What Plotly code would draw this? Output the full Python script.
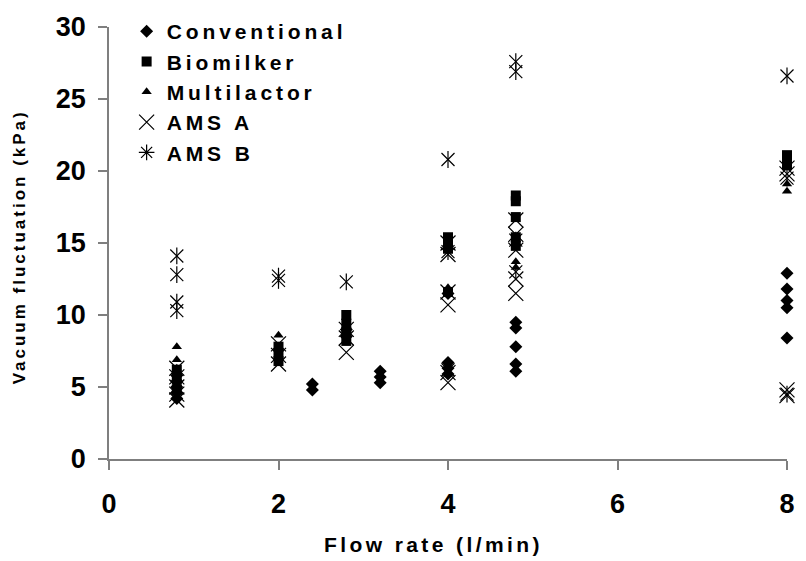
import plotly.graph_objects as go

# ---------------- data ----------------
conv_x = [0.8, 0.8, 0.8, 0.8, 0.8, 2.4, 2.4, 2.8, 2.8, 3.2, 3.2, 3.2, 4, 4, 4, 4, 4.8, 4.8, 4.8, 4.8, 4.8, 8, 8, 8, 8, 8]
conv_y = [4.2, 4.6, 5.0, 5.4, 5.8, 4.8, 5.2, 8.5, 9.0, 5.3, 5.7, 6.1, 5.9, 6.3, 6.7, 11.5, 6.1, 6.6, 7.8, 9.1, 9.5, 8.4, 10.5, 11.0, 11.8, 12.9]

bio_x = [0.8, 0.8, 0.8, 2, 2, 2, 2.8, 2.8, 2.8, 2.8, 4, 4, 4, 4, 4.8, 4.8, 4.8, 4.8, 4.8, 8, 8, 8]
bio_y = [4.8, 5.5, 6.2, 6.8, 7.3, 7.8, 8.2, 8.8, 9.4, 10.0, 11.6, 14.6, 15.0, 15.4, 14.8, 15.4, 16.8, 17.9, 18.3, 20.4, 20.8, 21.1]

multi_x = [0.8, 0.8, 0.8, 0.8, 2, 2, 2.8, 4, 4.8, 4.8, 8, 8]
multi_y = [5.6, 6.3, 6.9, 7.8, 7.0, 8.6, 9.0, 11.9, 13.3, 13.7, 18.6, 19.1]

amsa_x = [0.8, 0.8, 0.8, 0.8, 0.8, 2, 2, 2, 2.8, 2.8, 2.8, 4, 4, 4, 4, 4, 4, 4.8, 4.8, 4.8, 4.8, 4.8, 8, 8, 8, 8]
amsa_y = [4.1, 4.5, 5.0, 5.7, 6.3, 6.6, 7.2, 8.0, 7.4, 8.4, 9.0, 5.3, 6.0, 10.7, 11.6, 14.2, 15.0, 11.5, 12.5, 14.5, 15.6, 16.6, 4.4, 4.8, 19.8, 20.2]

amsb_x = [0.8, 0.8, 0.8, 0.8, 2, 2, 2.8, 4, 4, 4, 4.8, 4.8, 4.8, 4.8, 8, 8, 8]
amsb_y = [10.3, 10.9, 12.8, 14.1, 12.4, 12.7, 12.3, 20.8, 14.4, 6.2, 26.9, 27.6, 13.0, 15.2, 26.6, 4.5, 19.5]

series_names = ["Conventional", "Biomilker", "Multilactor", "AMS A", "AMS B"]

x_ticks = [0, 2, 4, 6, 8]
y_ticks = [0, 5, 10, 15, 20, 25, 30]

x_title = "Flow rate (l/min)"
y_title = "Vacuum fluctuation (kPa)"

# ---------------- styling ----------------
FONT = "Liberation Sans"


def lbl(t, sp):
    return f"<span style='letter-spacing:{sp}px'>{t}</span>"


LEG_SP = 3.9

fig = go.Figure()

fig.add_trace(go.Scatter(x=conv_x, y=conv_y, mode="markers", name=lbl(series_names[0], LEG_SP),
                         cliponaxis=False,
                         marker=dict(symbol="diamond", size=10, color="black")))
fig.add_trace(go.Scatter(x=bio_x, y=bio_y, mode="markers", name=lbl(series_names[1], LEG_SP),
                         cliponaxis=False,
                         marker=dict(symbol="square", size=10, color="black")))
fig.add_trace(go.Scatter(x=multi_x, y=multi_y, mode="markers", name=lbl(series_names[2], LEG_SP),
                         cliponaxis=False,
                         marker=dict(symbol="triangle-up", size=9, color="black")))
fig.add_trace(go.Scatter(x=amsa_x, y=amsa_y, mode="markers", name=lbl(series_names[3], LEG_SP),
                         cliponaxis=False,
                         marker=dict(symbol="x-thin-open", size=15, color="black",
                                     line=dict(width=1.2, color="black"))))
# AMS B: an X with a vertical bar (drawn as two overlaid marker layers)
fig.add_trace(go.Scatter(x=amsb_x, y=amsb_y, mode="markers", showlegend=False,
                         legendgroup="amsb", cliponaxis=False,
                         marker=dict(symbol="x-thin-open", size=13, color="black",
                                     line=dict(width=1.2, color="black"))))
fig.add_trace(go.Scatter(x=amsb_x, y=amsb_y, mode="markers", showlegend=False,
                         legendgroup="amsb", cliponaxis=False,
                         marker=dict(symbol="line-ns-open", size=12, color="black",
                                     line=dict(width=1.2, color="black"))))
# legend entry for AMS B
fig.add_trace(go.Scatter(x=[None], y=[None], mode="markers", name=lbl(series_names[4], LEG_SP),
                         legendgroup="amsb",
                         marker=dict(symbol="asterisk-open", size=13, color="black",
                                     line=dict(width=1.2, color="black"))))

axis_common = dict(
    showgrid=False, zeroline=False, showline=True,
    linecolor="#7f7f7f", linewidth=1.5,
    ticks="outside", ticklen=9, tickcolor="#7f7f7f", tickwidth=1.5,
    tickfont=dict(family=FONT, size=27, color="black", weight="bold"),
)

fig.update_layout(
    width=806, height=561, autosize=False,
    margin=dict(l=109, r=11, t=22, b=102),
    paper_bgcolor="white", plot_bgcolor="white",
    font=dict(family=FONT, color="black"),
    xaxis=dict(range=[0, 8], tickvals=x_ticks, ticklabelstandoff=11, **axis_common),
    yaxis=dict(range=[0, 30], tickvals=y_ticks, ticklabelstandoff=7, **axis_common),
    legend=dict(x=0.026, xanchor="left", y=1.037, yanchor="top",
                bgcolor="white", borderwidth=0, tracegroupgap=0,
                font=dict(family=FONT, size=21, weight="bold", color="black"),
                itemsizing="trace"),
    showlegend=True,
    annotations=[
        dict(text=lbl(x_title, 3.4), xref="paper", yref="paper",
             x=0.478, y=-0.197, xanchor="center", yanchor="middle", showarrow=False,
             font=dict(family=FONT, size=21, weight="bold", color="black")),
        dict(text=lbl(y_title, 3), xref="paper", yref="paper", textangle=-90,
             x=-0.1327, y=0.49, xanchor="center", yanchor="middle", showarrow=False,
             font=dict(family=FONT, size=17, weight="bold", color="black")),
    ],
)

fig.write_html("out.html")
